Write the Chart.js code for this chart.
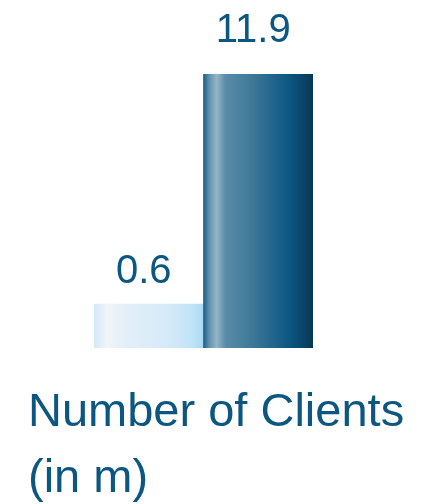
<!DOCTYPE html>
<html>
<head>
<meta charset="utf-8">
<script src="https://cdn.jsdelivr.net/npm/chart.js@4.4.1/dist/chart.umd.min.js"></script>
<style>
  html, body { margin: 0; padding: 0; background: #fff; }
  #wrap { width: 421px; height: 504px; position: relative; }
</style>
</head>
<body>
<div id="wrap"><canvas id="clients"></canvas></div>
<script>
// clients, in millions
var categories = ['Before', 'Now'];
var clients = [0.6, 11.9];
var captionLines = ['Number of Clients', '(in m)'];

var TEXT_COLOR = '#0c5781';
var AXIS_FLOOR = -1.56;
var labelGap = [21, 32]; // space between bar top and its value

// horizontal "cylinder" shading for each bar
var barStops = [
  [[0, '#d4e9f7'], [0.12, '#f1f4f8'], [0.3, '#e2eff8'], [0.7, '#d5e9f7'], [0.9, '#c0e2f7'], [1, '#a9d9f5']],
  [[0, '#1d5d84'], [0.05, '#5f90ab'], [0.12, '#95b5c8'], [0.2, '#5a8ca8'], [0.45, '#3d7898'], [0.78, '#0c5782'], [1, '#0a3755']]
];

function barFill(ctx) {
  var chart = ctx.chart;
  var area = chart.chartArea;
  if (!area) return '#0c5782';
  var w = (area.right - area.left) / categories.length;
  var x0 = area.left + w * ctx.dataIndex;
  var g = chart.ctx.createLinearGradient(x0, 0, x0 + w, 0);
  barStops[ctx.dataIndex].forEach(function (s) { g.addColorStop(s[0], s[1]); });
  return g;
}

var valueLabels = {
  id: 'valueLabels',
  afterDatasetsDraw: function (chart) {
    var c = chart.ctx;
    c.save();
    c.fillStyle = TEXT_COLOR;
    c.font = '40px "Liberation Sans", Arial, sans-serif';
    c.textAlign = 'center';
    c.textBaseline = 'alphabetic';
    chart.getDatasetMeta(0).data.forEach(function (bar, i) {
      c.fillText(clients[i].toFixed(1), bar.x - 5, bar.y - labelGap[i]);
    });
    c.restore();
  }
};

var caption = {
  id: 'caption',
  afterDraw: function (chart) {
    var c = chart.ctx;
    c.save();
    c.fillStyle = TEXT_COLOR;
    c.font = '47px "Liberation Sans", Arial, sans-serif';
    c.textAlign = 'left';
    c.textBaseline = 'alphabetic';
    captionLines.forEach(function (line, i) {
      c.fillText(line, 28, 426 + i * 66);
    });
    c.restore();
  }
};

new Chart(document.getElementById('clients'), {
  type: 'bar',
  data: {
    labels: categories,
    datasets: [{
      data: clients,
      base: AXIS_FLOOR,
      backgroundColor: barFill,
      borderWidth: 0,
      categoryPercentage: 1,
      barPercentage: 1
    }]
  },
  options: {
    responsive: true,
    maintainAspectRatio: false,
    animation: false,
    events: [],
    layout: { padding: { left: 94, right: 108, top: 74, bottom: 156 } },
    plugins: { legend: { display: false }, tooltip: { enabled: false } },
    scales: {
      x: { display: false },
      y: { display: false, min: AXIS_FLOOR, max: 11.9 }
    }
  },
  plugins: [valueLabels, caption]
});
</script>
</body>
</html>
